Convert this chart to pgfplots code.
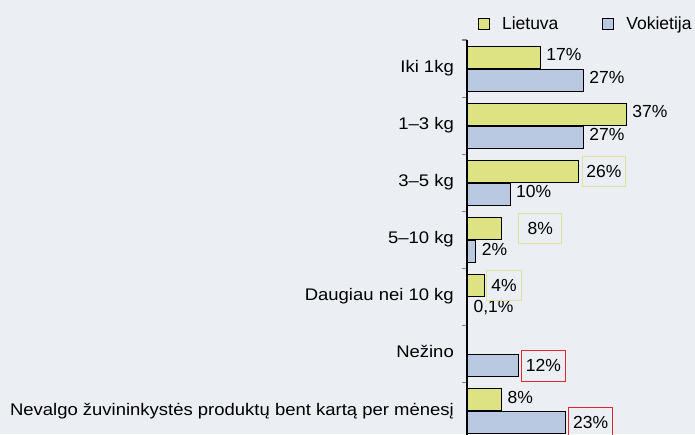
\documentclass[border=0pt]{standalone}
\usepackage{pgfplots}
\pgfplotsset{compat=1.18}
\usepackage{fontspec}
\setmainfont[FakeStretch=1.1]{Liberation Sans}
\newfontfamily\labfont{Liberation Sans}
\definecolor{bg}{HTML}{EBEEF2}
\definecolor{ly}{HTML}{DDE383}
\definecolor{vb}{HTML}{B9C9E1}
\definecolor{yb}{HTML}{DDE39C}
\definecolor{rb}{HTML}{E5262E}
\newcommand{\lf}{\labfont\fontsize{17.5}{19}\selectfont}
\begin{document}
\begin{tikzpicture}[x=1pt,y=1pt]
\fill[bg] (0,0) rectangle (695,434);
\path[use as bounding box] (0,0) rectangle (695,434);
\begin{axis}[
  at={(467pt,-6pt)}, anchor=south west,
  scale only axis, width=228pt, height=400pt,
  xmin=0, xmax=53, ymin=-0.5, ymax=6.5,
  axis x line=none, axis y line*=left,
  axis line style={line width=1.1pt},
  xtick=\empty,
  ytick={0,...,6},
  yticklabels={Nevalgo žuvininkystės produktų bent kartą per mėnesį, Nežino, Daugiau nei 10 kg, 5–10 kg, 3–5 kg, 1–3 kg, Iki 1kg},
  minor ytick={0.5,1.5,...,6.5},
  major tick length=0pt, minor tick length=5pt, tick align=outside,
  minor tick style={line width=1.1pt},
  yticklabel style={font=\fontsize{16.8}{18}\selectfont, anchor=base east, inner sep=0pt, xshift=-13pt, yshift=-0.36em},
  legend columns=2,
  legend style={at={(0.048,1)}, anchor=west, yshift=16.5pt, draw=none, fill=none, inner sep=0pt,
    nodes={inner sep=0pt, font=\lf},
    /tikz/every odd column/.append style={column sep=12pt},
    /tikz/every even column/.append style={column sep=44pt}},
  legend image code/.code={\draw[#1, line width=0.9pt] (0pt,-5.5pt) rectangle (11pt,5.5pt);},
]
\addplot[xbar, bar width=22pt, bar shift=11.5pt, fill=ly, draw=black, line width=0.9pt]
  coordinates {(17,6) (37,5) (26,4) (8,3) (4,2) (8,0)};
\addlegendentry{Lietuva}
\addplot[xbar, bar width=22pt, bar shift=-11.5pt, fill=vb, draw=black, line width=0.9pt]
  coordinates {(27,6) (27,5) (10,4) (2,3) (0.1,2) (12,1) (23,0)};
\addlegendentry{Vokietija}
% plain labels
\addplot[draw=none, mark=none, forget plot, point meta=explicit symbolic,
  nodes near coords={\pgfplotspointmeta\%},
  nodes near coords style={font=\lf, anchor=base west, inner sep=0pt, xshift=6pt, yshift=-0.36em, text=black}]
  table[meta=lab] {
x y lab
17 6.2 17
27 5.8 27
37 5.2 37
27 4.8 27
10 3.8 10
2 2.8 2
0.1 1.8 0,1
8 0.2 8
};
% yellow boxed labels
\addplot[draw=none, mark=none, forget plot, point meta=explicit symbolic,
  nodes near coords={\pgfplotspointmeta\%},
  nodes near coords style={font=\lf, anchor=west, inner sep=0pt, draw=yb, line width=1pt, minimum width=43pt, minimum height=30pt, text=black}]
  table[meta=lab] {
x y lab
26.7 4.2 26
11.9 3.2 8
};
\addplot[draw=none, mark=none, forget plot, point meta=explicit symbolic,
  nodes near coords={\pgfplotspointmeta\%},
  nodes near coords style={font=\lf, anchor=west, inner sep=0pt, draw=yb, line width=1pt, minimum width=35pt, minimum height=30pt, text=black}]
  table[meta=lab] {
x y lab
4.4 2.2 4
};
% red boxed labels
\addplot[draw=none, mark=none, forget plot, point meta=explicit symbolic,
  nodes near coords={\pgfplotspointmeta\%},
  nodes near coords style={font=\lf, anchor=west, inner sep=0pt, draw=rb, line width=1.2pt, minimum width=44pt, minimum height=31pt, text=black}]
  table[meta=lab] {
x y lab
12.5 0.8 12
23.5 -0.2 23
};
\end{axis}
\end{tikzpicture}
\end{document}
